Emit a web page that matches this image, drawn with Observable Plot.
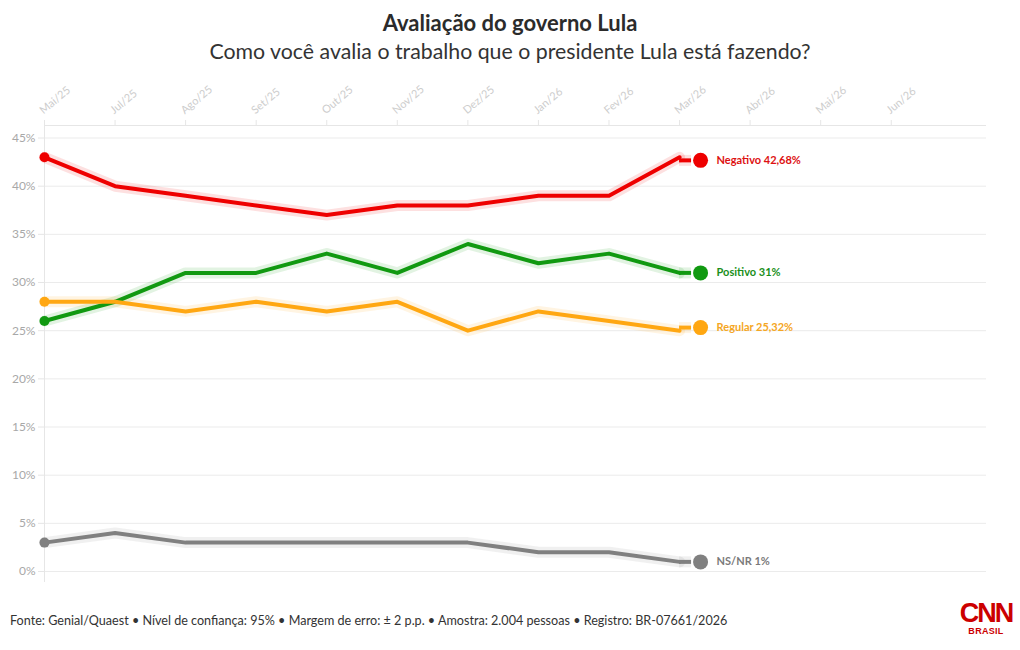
<!DOCTYPE html>
<html>
<head>
<meta charset="utf-8">
<script src="https://cdn.jsdelivr.net/npm/d3@7"></script>
<script src="https://cdn.jsdelivr.net/npm/@observablehq/plot@0.6"></script>
<style>
  html, body { margin: 0; padding: 0; background: #fff; }
  body { width: 1020px; height: 650px; position: relative; overflow: hidden; font-family: Lato, "Open Sans", sans-serif; color: #333; }
  #title { position: absolute; top: 9px; left: 0; width: 1020px; text-align: center; font-size: 22px; font-weight: 700; line-height: 28px; color: #2b2b2b; }
  #subtitle { position: absolute; top: 37px; left: 0; width: 1020px; text-align: center; font-size: 21.3px; font-weight: 400; line-height: 28px; color: #333; }
  #chart { position: absolute; top: 60px; left: 0; }
  #footer { position: absolute; top: 613px; left: 10px; font-size: 12.6px; color: #333; }
  #logo { position: absolute; top: 600px; left: 958px; width: 56px; text-align: center; color: #cc0000; font-family: "Liberation Sans", Arial, sans-serif; font-weight: 700; }
  #logo .cnn { font-size: 27px; line-height: 26px; letter-spacing: -2px; }
  #logo .br { font-size: 9px; line-height: 10px; letter-spacing: 0.3px; }
</style>
</head>
<body>
<div id="title">Avaliação do governo Lula</div>
<div id="subtitle">Como você avalia o trabalho que o presidente Lula está fazendo?</div>
<div id="chart"></div>
<div id="footer">Fonte: Genial/Quaest • Nível de confiança: 95% • Margem de erro: ± 2 p.p. • Amostra: 2.004 pessoas • Registro: BR-07661/2026</div>
<div id="logo"><div class="cnn">CNN</div><div class="br">BRASIL</div></div>
<script>
// ---- Data ----
const months = ["Mai/25","Jul/25","Ago/25","Set/25","Out/25","Nov/25","Dez/25","Jan/26","Fev/26","Mar/26","Abr/26","Mai/26","Jun/26"];
const seriesNames = ["Negativo","Positivo","Regular","NS/NR"];
const negativo = [43,40,39,38,37,38,38,39,39,43];
const positivo = [26,28,31,31,33,31,34,32,33,31];
const regular  = [28,28,27,28,27,28,25,27,26,25];
const nsnr     = [3,4,3,3,3,3,3,2,2,1];
const latestValues = [42.68, 31, 25.32, 1];
const latestLabels = ["42,68%","31%","25,32%","1%"];
const seriesColors = ["#ee0000","#119911","#ffa712","#808080"];
const labelColors  = ["#dd1111","#1a8f1a","#f5a623","#7a7a7a"];
const yTicks = [0,5,10,15,20,25,30,35,40,45];

// ---- Build tables ----
const values = [negativo, positivo, regular, nsnr];
const rows = [];
values.forEach((arr, s) => arr.forEach((v, i) => rows.push({serie: seriesNames[s], i, v})));
const lastIdx = negativo.length - 1;
const endRows = seriesNames.map((name, s) => ({
  serie: name, i: lastIdx, v: values[s][lastIdx], exact: latestValues[s],
  label: `${name} ${latestLabels[s]}`, lc: labelColors[s]
}));
const firstRows = rows.filter(d => d.i === 0);
const monthIdx = months.map((m, i) => i);
const yMax = 46.3, yMin = -1.14, xMax = 13.35;

const chart = Plot.plot({
  width: 1020,
  height: 530,
  marginTop: 65,
  marginBottom: 8,
  marginLeft: 44,
  marginRight: 34,
  style: {fontFamily: "Lato, 'Open Sans', sans-serif", background: "transparent"},
  x: {domain: [0, xMax], axis: null},
  y: {domain: [yMin, yMax], axis: null},
  color: {domain: seriesNames, range: seriesColors},
  marks: [
    Plot.ruleY(yTicks, {stroke: "#ebebeb", strokeWidth: 1}),
    Plot.ruleY([yMax], {stroke: "#e6e6e6", strokeWidth: 1}),
    Plot.ruleX([0], {stroke: "#e6e6e6", strokeWidth: 1}),
    Plot.axisY(yTicks, {tickSize: 6, tickPadding: 3, tickFormat: d => d + "%", stroke: "#e6e6e6", fill: "#a8a8a8", fontSize: 12, label: null}),
    Plot.axisX(monthIdx, {anchor: "top", tickSize: 6, tickFormat: () => "", stroke: "#e6e6e6", label: null}),
    Plot.text(monthIdx, {x: d => d, frameAnchor: "top", text: i => months[i], rotate: -40, textAnchor: "start", dx: -6, dy: -17, fill: "#cdcdcd", fontSize: 11}),
    // halos
    Plot.line(rows, {x: "i", y: "v", z: "serie", stroke: "serie", strokeWidth: 11, strokeOpacity: 0.12, strokeLinejoin: "round", strokeLinecap: "round"}),
    Plot.ruleY(endRows, {y: "exact", x1: "i", x2: "i", insetRight: -12, stroke: "serie", strokeWidth: 11, strokeOpacity: 0.12}),
    // lines
    Plot.line(rows, {x: "i", y: "v", z: "serie", stroke: "serie", strokeWidth: 4, strokeLinejoin: "round"}),
    Plot.ruleY(endRows, {y: "exact", x1: "i", x2: "i", insetRight: -12, stroke: "serie", strokeWidth: 4}),
    Plot.dot(firstRows, {x: "i", y: "v", r: 5, fill: "serie"}),
    Plot.dot(endRows, {x: "i", y: "exact", dx: 21, r: 7.5, fill: "serie"}),
    Plot.text(endRows, {x: "i", y: "exact", dx: 37, text: "label", fill: d => d.lc, textAnchor: "start", fontWeight: 700, fontSize: 11})
  ]
});
document.getElementById("chart").appendChild(chart);
</script>
</body>
</html>
